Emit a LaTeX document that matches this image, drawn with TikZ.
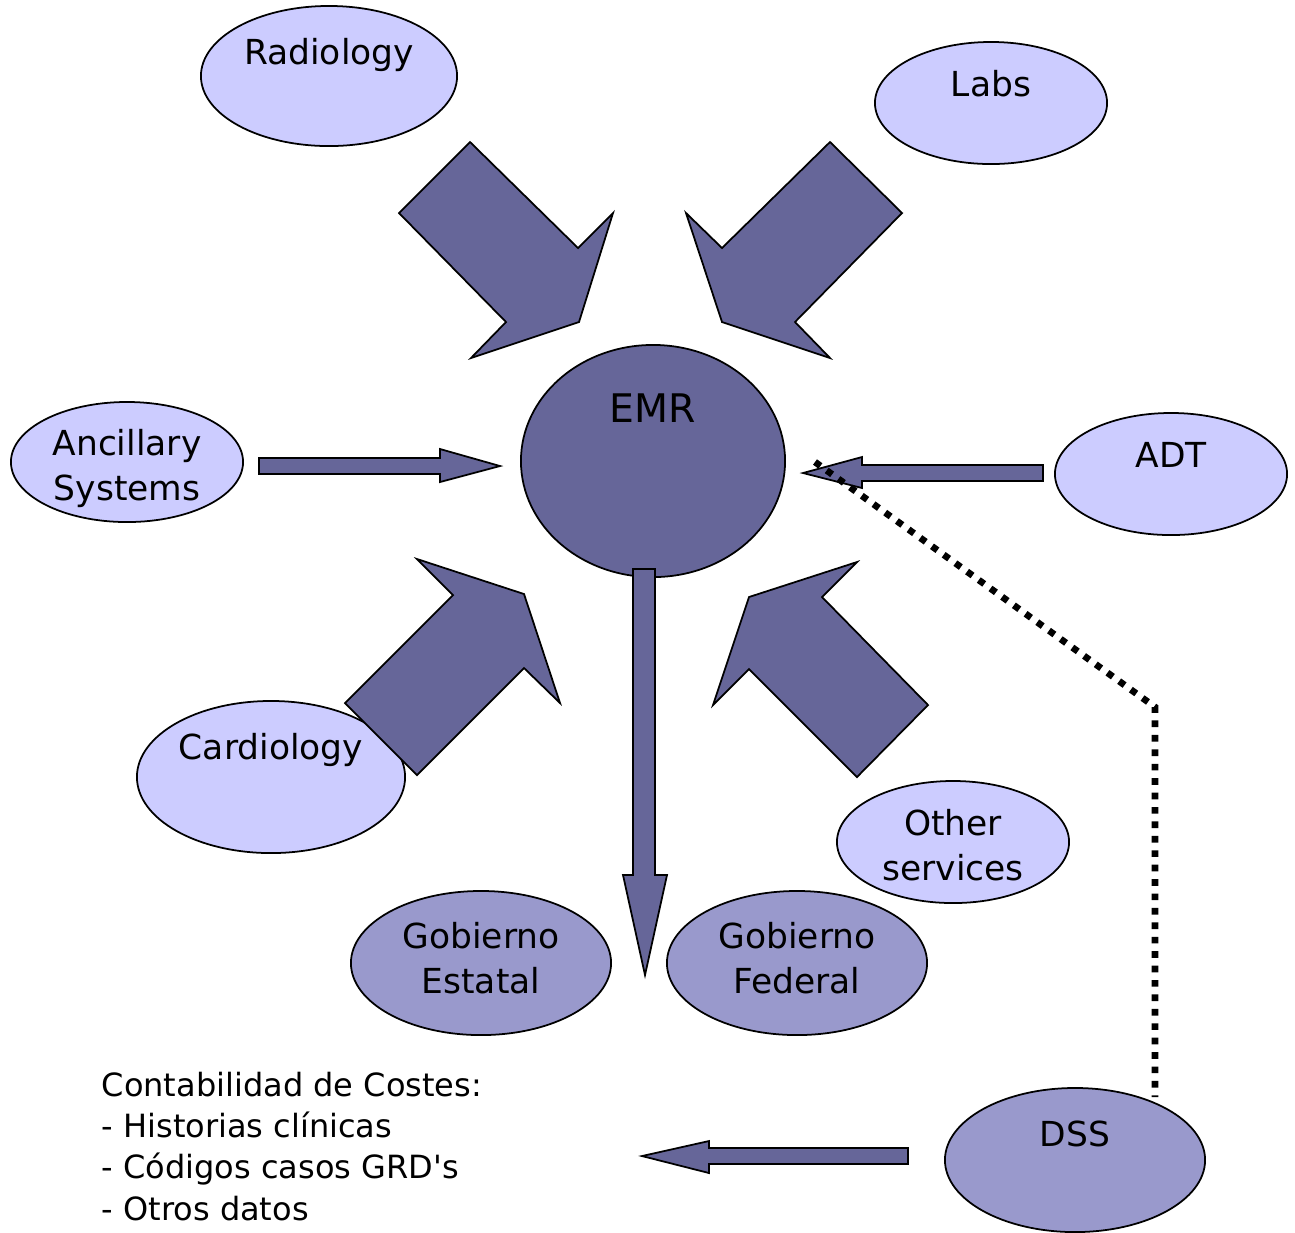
\documentclass[tikz,border=0pt]{standalone}
\usepackage{fontspec}
\setmainfont{DejaVu Sans}
\usetikzlibrary{shapes.geometric}
\definecolor{lightblob}{HTML}{CCCCFF}
\definecolor{coreblob}{HTML}{666699}
\definecolor{midblob}{HTML}{9999CC}

\begin{document}
\begin{tikzpicture}[x=0.01cm, y=-0.01cm,
  blob/.style={ellipse, draw=black, line width=0.5pt, inner sep=0pt},
  lightb/.style={blob, fill=lightblob},
  midb/.style={blob, fill=midblob},
  coreb/.style={blob, fill=coreblob},
  blockarrow/.style={fill=coreblob, draw=black, line width=0.5pt, line join=miter},
  lbl/.style={font=\fontsize{9.8}{12.8}\selectfont, align=center, inner sep=0pt, anchor=base},
  listtext/.style={font=\fontsize{9.1}{11.7}\selectfont, align=left, inner sep=0pt, anchor=base west},
  dotline/.style={line width=1.9pt, dash pattern=on 1.9pt off 2.2pt}
]
\useasboundingbox (0,0) rectangle (1295,1232);

% ellipses
\node[lightb, minimum width=2.56cm, minimum height=1.40cm] (radiology) at (329,76) {};
\node[lightb, minimum width=2.32cm, minimum height=1.22cm] (labs) at (991,103) {};
\node[coreb, minimum width=2.64cm, minimum height=2.32cm] (emr) at (653,461) {};
\node[lightb, minimum width=2.32cm, minimum height=1.20cm] (ancillary) at (127,462) {};
\node[lightb, minimum width=2.32cm, minimum height=1.22cm] (adt) at (1171,474) {};
\node[lightb, minimum width=2.68cm, minimum height=1.52cm] (cardiology) at (271,777) {};
\node[lightb, minimum width=2.32cm, minimum height=1.22cm] (other) at (953,842) {};
\node[midb, minimum width=2.60cm, minimum height=1.44cm] (estatal) at (481,963) {};
\node[midb, minimum width=2.60cm, minimum height=1.44cm] (federal) at (797,963) {};
\node[midb, minimum width=2.60cm, minimum height=1.44cm] (dss) at (1075,1160) {};

% labels (base anchor sits on the last line of a multi-line label)
\node[lbl] (radiologytxt) at (329,64) {Radiology};
\node[lbl] (labstxt) at (991,96) {Labs};
\node[lbl, font=\fontsize{11.2}{13}\selectfont] (emrtxt) at (653,422) {EMR};
\node[lbl] (ancillarytxt) at (127,500) {Ancillary\\Systems};
\node[lbl] (adttxt) at (1171,467) {ADT};
\node[lbl] (cardiologytxt) at (271,759) {Cardiology};
\node[lbl] (othertxt) at (953,880) {Other\\services};
\node[lbl] (estataltxt) at (481,993) {Gobierno\\Estatal};
\node[lbl] (federaltxt) at (797,993) {Gobierno\\Federal};
\node[lbl] (dsstxt) at (1075,1146) {DSS};
\node[listtext] (costes) at (101,1220) {Contabilidad de Costes:\\- Historias clínicas\\- Códigos casos GRD\textquotesingle s\\- Otros datos};

% block arrows into the EMR
\draw[blockarrow] (470,142) -- (578,248) -- (613,213) -- (579,322) -- (471,358) -- (506,322) -- (399,213) -- cycle;
\draw[blockarrow] (830,142) -- (902,213) -- (795,322) -- (830,358) -- (722,322) -- (686,213) -- (722,248) -- cycle;
\draw[blockarrow] (417,559) -- (524,594) -- (560,703) -- (524,668) -- (417,775) -- (345,703) -- (453,595) -- cycle;
\draw[blockarrow] (857,562) -- (822,597) -- (928,705) -- (857,777) -- (749,669) -- (713,705) -- (749,597) -- cycle;

% straight arrows
\draw[blockarrow] (259,458) -- (440,458) -- (440,449) -- (500,466) -- (440,482) -- (440,474) -- (259,474) -- cycle;
\draw[blockarrow] (1043,465) -- (862,465) -- (862,457) -- (803,473) -- (862,488) -- (862,481) -- (1043,481) -- cycle;
\draw[blockarrow] (633,569) -- (655,569) -- (655,875) -- (667,875) -- (645,975) -- (623,875) -- (633,875) -- cycle;
\draw[blockarrow] (908,1148) -- (709,1148) -- (709,1141) -- (642,1156) -- (709,1173) -- (709,1164) -- (908,1164) -- cycle;

% dotted link from the EMR side down to the DSS
\coordinate (dotstart) at (815,462);
\coordinate (dotbend) at (1155,707);
\coordinate (dotend) at (1155,1097);
\draw[dotline] (dotstart) -- (dotbend) -- (dotend);
\end{tikzpicture}
\end{document}
